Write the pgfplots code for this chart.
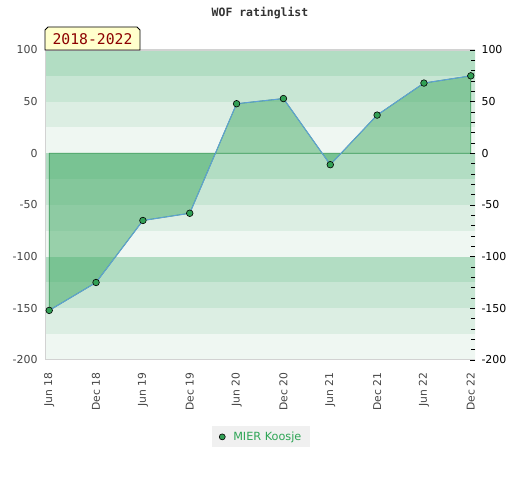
\documentclass[border=0pt]{standalone}
\usepackage{fontspec}
\setmainfont{DejaVu Sans}
\newfontfamily\monofont{DejaVu Sans Mono}
\usepackage{pgfplots}
\usepackage{pgfplotstable}
\pgfplotsset{compat=1.18}
\definecolor{bandA}{RGB}{178,221,195}
\definecolor{bandB}{RGB}{200,230,212}
\definecolor{bandC}{RGB}{220,238,227}
\definecolor{bandD}{RGB}{239,247,242}
\definecolor{areagreen}{RGB}{66,170,100}
\definecolor{edgegreen}{RGB}{60,155,90}
\definecolor{lineblue}{RGB}{95,160,215}
\definecolor{markgreen}{RGB}{50,160,85}
\definecolor{legtext}{RGB}{45,165,85}
\definecolor{ticklab}{RGB}{68,68,68}
\definecolor{framegray}{RGB}{210,210,210}
\definecolor{boxfill}{RGB}{255,255,204}
\definecolor{boxtext}{RGB}{140,0,0}
\definecolor{legbg}{RGB}{240,240,240}

\pgfplotstableread{
x y
0 -152
1 -125
2 -65
3 -58
4 48
5 53
6 -11
7 37
8 68
9 75
}\ratings

\begin{document}
\begin{tikzpicture}[x=1bp,y=1bp]
\useasboundingbox (0,0) rectangle (520,480);
\begin{axis}[
  at={(45bp,120bp)}, anchor=south west,
  scale only axis, width=430bp, height=310bp,
  xmin=-0.09, xmax=9.09, ymin=-200, ymax=100,
  axis line style={draw=none},
  major tick length=0pt,
  xtick={0,...,9},
  xticklabels={Jun 18,Dec 18,Jun 19,Dec 19,Jun 20,Dec 20,Jun 21,Dec 21,Jun 22,Dec 22},
  xticklabel style={rotate=90, anchor=east, font=\fontsize{10.8}{12}\selectfont, text=ticklab},
  xticklabel shift=9bp,
  ytick={-200,-150,...,100},
  yticklabel style={font=\fontsize{11}{12}\selectfont, text=ticklab},
  yticklabel shift=4bp,
  /pgf/number format/assume math mode=true,
  clip=true,
  legend style={at={(0.503,-0.248)}, anchor=center, fill=legbg, draw=none,
    font=\fontsize{11.3}{12}\selectfont\color{legtext}, inner xsep=7bp, inner ysep=3.5bp},
]
\fill[bandA] (axis cs:-1,75) rectangle (axis cs:10,100);
\fill[bandB] (axis cs:-1,50) rectangle (axis cs:10,75);
\fill[bandC] (axis cs:-1,25) rectangle (axis cs:10,50);
\fill[bandD] (axis cs:-1,0) rectangle (axis cs:10,25);
\fill[bandA] (axis cs:-1,-25) rectangle (axis cs:10,0);
\fill[bandB] (axis cs:-1,-50) rectangle (axis cs:10,-25);
\fill[bandC] (axis cs:-1,-75) rectangle (axis cs:10,-50);
\fill[bandD] (axis cs:-1,-100) rectangle (axis cs:10,-75);
\fill[bandA] (axis cs:-1,-125) rectangle (axis cs:10,-100);
\fill[bandB] (axis cs:-1,-150) rectangle (axis cs:10,-125);
\fill[bandC] (axis cs:-1,-175) rectangle (axis cs:10,-150);
\fill[bandD] (axis cs:-1,-200) rectangle (axis cs:10,-175);
\draw[framegray, line width=1.2bp] (rel axis cs:1,1) -- (rel axis cs:0,1) -- (rel axis cs:0,0) -- (rel axis cs:1,0);
\addplot[fill=areagreen, fill opacity=0.5, draw=edgegreen, draw opacity=1, line width=0.8bp, forget plot] table[x=x,y=y] {\ratings} \closedcycle;
\addplot[lineblue, line width=1bp, mark=*, mark size=3.3bp,
  mark options={draw=black, fill=markgreen, line width=0.6bp},
  legend image code/.code={\path[draw=none, fill=none] (-3bp,0bp) rectangle (9bp,0.1bp); \draw[mark=*, mark size=3bp, mark options={draw=black, fill=markgreen, line width=0.6bp}, draw=none] plot coordinates {(0bp,0bp)};}]
  table[x=x,y=y] {\ratings};
\addlegendentry{MIER Koosje}
\end{axis}
\begin{axis}[
  at={(45bp,120bp)}, anchor=south west,
  scale only axis, width=430bp, height=310bp,
  xmin=-0.09, xmax=9.09, ymin=-200, ymax=100,
  axis x line=none,
  axis y line*=right,
  y axis line style={draw=none},
  ytick={-200,-150,...,100},
  minor y tick num=4,
  tick align=inside,
  major tick length=5bp, minor tick length=4bp,
  tick style={black, line width=0.8bp},
  yticklabel style={font=\fontsize{11}{12}\selectfont, text=black},
  yticklabel shift=3bp,
  /pgf/number format/assume math mode=true,
]
\end{axis}
\node[font=\monofont\bfseries\fontsize{11.5}{12}\selectfont, text=black!80] at (260,467) {WOF ratinglist};
\draw[fill=boxfill, draw=black, line width=0.8bp] (45,430) -- (45,450) -- (48,453) -- (137,453) -- (140,450) -- (140,430) -- cycle;
\node[font=\monofont\fontsize{14.8}{16}\selectfont, text=boxtext] at (92.5,441) {2018-2022};
\end{tikzpicture}
\end{document}
